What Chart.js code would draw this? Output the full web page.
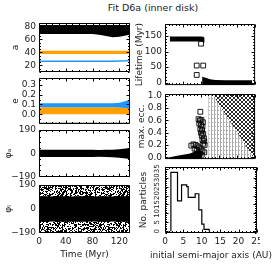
<!DOCTYPE html>
<html>
<head>
<meta charset="utf-8">
<script src="https://cdn.jsdelivr.net/npm/chart.js@4/dist/chart.umd.min.js"></script>
<style>
  body { margin: 0; background: #fff; width: 279px; height: 267px; overflow: hidden; position: relative; }
  canvas { position: absolute; }
  .lbl { position: absolute; text-align: center; font: 9px/11px "DejaVu Sans"; color: #222; white-space: nowrap; }
  #title { left: 90px; top: 2px; width: 126px; font-size: 9.5px; line-height: 12px; }
  #auTitle { left: 146px; top: 250px; width: 130px; }
</style>
</head>
<body>
<div id="title" class="lbl">Fit D6a (inner disk)</div>
<canvas id="pA"></canvas>
<canvas id="pE"></canvas>
<canvas id="pPhiA"></canvas>
<canvas id="pPhiL"></canvas>
<canvas id="pLife"></canvas>
<canvas id="pEcc"></canvas>
<canvas id="pHist"></canvas>
<div id="auTitle" class="lbl">initial semi-major axis (AU)</div>
<script>
// left column: time series, sampled every 10 Myr
const timeMyr = [0, 10, 20, 30, 40, 50, 60, 70, 80, 90, 100, 110, 120, 130, 135];
const aOuterTop    = [82, 82, 82, 82, 82, 82, 82, 82, 82, 82, 82, 82, 82, 82, 82];
const aOuterBottom = [68, 68, 68, 68, 68, 68, 68, 68, 68, 67, 65, 63, 64, 66, 67];
const aMiddleTop    = [42.5, 42.5, 42.5, 42.5, 42.5, 42.5, 42.5, 42.5, 42.5, 42.5, 42.5, 42.5, 42.5, 42.5, 42.5];
const aMiddleBottom = [37.5, 37.5, 37.5, 37.5, 37.5, 37.5, 37.5, 37.5, 37.5, 37.5, 37.5, 37.5, 37.5, 37.5, 37.5];
const aInner = [26.5, 26.5, 26.5, 26.5, 26.5, 26.5, 26.5, 26.5, 26.5, 26.5, 26.5, 26.5, 26.8, 27.2, 27.6];

const eMiddleTop    = [0.112, 0.112, 0.112, 0.112, 0.112, 0.112, 0.112, 0.112, 0.112, 0.112, 0.112, 0.113, 0.118, 0.135, 0.15];
const eMiddleBottom = [0.072, 0.072, 0.072, 0.072, 0.072, 0.072, 0.072, 0.072, 0.072, 0.072, 0.072, 0.071, 0.068, 0.064, 0.06];
const eInnerTop    = [0.072, 0.072, 0.072, 0.072, 0.072, 0.072, 0.072, 0.072, 0.072, 0.072, 0.072, 0.072, 0.072, 0.072, 0.072];
const eInnerBottom = [0.0, 0.0, 0.0, 0.0, 0.0, 0.0, 0.0, 0.0, 0.0, 0.0, 0.0, 0.0, 0.0, 0.0, 0.0];
const eFar = [-0.085, -0.085, -0.085, -0.085, -0.085, -0.085, -0.085, -0.085, -0.085, -0.085, -0.085, -0.085, -0.085, -0.085, -0.085];

const phiATop    = [30, 31, 30, 31, 30, 30, 31, 30, 30, 29, 30, 31, 34, 40, 44];
const phiABottom = [-28, -29, -28, -29, -28, -28, -29, -28, -28, -27, -28, -30, -34, -40, -44];
const phiLTop    = [100, 100, 98, 100, 100, 98, 100, 100, 98, 100, 100, 98, 100, 100, 100];
const phiLBottom = [-100, -100, -98, -100, -100, -98, -100, -100, -98, -100, -100, -98, -100, -100, -100];
const phiLSpread = [190, 190, 190, 190, 190, 190, 190, 190, 190, 190, 190, 190, 190, 190, 190];

// right column: against initial semi-major axis (AU)
const lifeBandA      = [1.3, 10.0, 10.6, 11.0];
const lifeBandTop    = [148, 148, 147, 144];
const lifeBandBottom = [132, 132, 130, 128];
const lifeLowA   = [10.3, 10.8, 11.5, 12.5, 14, 17, 20, 24.2];
const lifeLowTop = [19, 18, 15, 11, 9, 8, 8, 8];
const lifeSquareA = [10.0, 8.8, 10.6, 8.8];
const lifeSquareT = [125, 55, 55, 25];

const eccBlobA = [1.4, 3, 5, 7, 8.5, 9.5, 10.3];
const eccBlobE = [0.0, 0.02, 0.04, 0.06, 0.10, 0.14, 0.08];
const eccSquareA = [9.8, 9.3, 9.7, 10.1, 10.5, 9.5, 10.0, 10.4, 9.8, 10.3, 10.0, 10.6, 10.2, 10.8, 10.4,
                    10.9, 10.6, 11.0, 7.3, 7.9, 8.5, 9.0, 8.2, 8.8, 9.4, 9.9, 10.4, 10.9, 9.6, 10.2];
const eccSquareE = [0.74, 0.62, 0.60, 0.61, 0.57, 0.55, 0.52, 0.50, 0.46, 0.44, 0.40, 0.38, 0.35, 0.31, 0.28,
                    0.26, 0.22, 0.20, 0.19, 0.21, 0.20, 0.18, 0.14, 0.12, 0.16, 0.13, 0.10, 0.08, 0.06, 0.04];
const unstableEdgeA = [13.1, 24.8, 25];
const unstableEdgeE = [1.03, -0.03, -0.03];
const gridEdgeA = [12.0, 13.1, 24.8];
const gridEdgeE = [1.03, 1.03, -0.03];

const histEdges  = [1.6, 3.4, 4.5, 5.9, 6.3, 8.2, 9.2, 10.0, 10.6, 12.0];
const histCounts = [33, 17, 26, 25, 19, 21, 12, 4, 1];

const FONT = { family: 'DejaVu Sans', size: 9 };
const INK = '#222';
const ORANGE = '#ffa000';
const BLUE = '#1e96ff';

const pts = (xs, ys) => xs.map((x, i) => ({ x, y: ys[i] }));

function makePattern(w, h, color, on) {
  const c = document.createElement('canvas');
  c.width = w; c.height = h;
  const g = c.getContext('2d');
  g.fillStyle = color;
  for (let j = 0; j < h; j++)
    for (let i = 0; i < w; i++)
      if (on(i, j)) g.fillRect(i, j, 1, 1);
  return g.createPattern(c, 'repeat');
}
// fixed pixel hash, used only as a texture for the dense point cloud
const hashBit = (i, j) => {
  let h = Math.imul(i, 374761393) + Math.imul(j, 668265263);
  h = Math.imul(h ^ (h >>> 13), 1274126177);
  return ((h ^ (h >>> 16)) >>> 0) % 100;
};
const crossHatch = makePattern(4, 4, '#2a2a2a', (i, j) => i === j || i === 3 - j);
const dottedGrid = makePattern(3, 4, '#aaaaaa', (i, j) => i === 1 || (j === 2 && i === 2));
const speckle = makePattern(61, 53, '#000', (i, j) => hashBit(i, j) < 46);

function marks(scale, minor) {
  const major = scale.ticks.map(t => t.value);
  const out = [];
  for (let v = Math.ceil(scale.min / minor - 1e-9) * minor; v <= scale.max + 1e-9; v += minor) {
    out.push([v, major.some(m => Math.abs(m - v) < minor / 10)]);
  }
  return out;
}

// IDL style frame: box on all four sides with inward ticks
const boxTicks = {
  id: 'boxTicks',
  afterDatasetsDraw(chart, args, opts) {
    const { ctx, chartArea: a, scales: { x, y } } = chart;
    const L = a.left + 0.5, R = a.right - 0.5, T = a.top + 0.5, B = a.bottom - 0.5;
    ctx.save();
    ctx.strokeStyle = '#000';
    ctx.lineWidth = 1;
    ctx.beginPath();
    ctx.rect(L, T, R - L, B - T);
    marks(x, opts.xMinor).forEach(([v, major]) => {
      const p = Math.round(x.getPixelForValue(v)) + 0.5, n = major ? 3 : 1.5;
      ctx.moveTo(p, B); ctx.lineTo(p, B - n);
      ctx.moveTo(p, T); ctx.lineTo(p, T + n);
    });
    marks(y, opts.yMinor).forEach(([v, major]) => {
      const p = Math.round(y.getPixelForValue(v)) + 0.5, n = major ? 3 : 1.5;
      ctx.moveTo(L, p); ctx.lineTo(L + n, p);
      ctx.moveTo(R, p); ctx.lineTo(R - n, p);
    });
    ctx.stroke();
    ctx.restore();
  }
};

const signed = v => (v < 0 ? '\u2212' + Math.abs(v) : String(v));
const oneDec = v => v.toFixed(1);

function axis(a, dir, size) {
  return {
    type: 'linear', min: a.min, max: a.max,
    grid: { display: false, drawTicks: false },
    border: { display: false },
    ticks: {
      display: !!a.labels, stepSize: a.step, includeBounds: false, autoSkip: false,
      font: { ...FONT, size: a.fontSize || FONT.size }, color: INK, padding: 3,
      minRotation: a.rot || 0, maxRotation: a.rot || 0,
      crossAlign: a.rot ? 'center' : 'near',
      callback: a.fmt || signed
    },
    title: a.title
      ? { display: true, text: a.title, font: FONT, color: INK, padding: a.titlePad }
      : { display: false },
    afterFit(s) {
      if (dir === 'x') s.height = size; else s.width = size;
      s.paddingLeft = s.paddingRight = s.paddingTop = s.paddingBottom = 0;
    }
  };
}

function panel(id, box, pad, o) {
  const cv = document.getElementById(id);
  cv.width = box.w + pad.l + pad.r;
  cv.height = box.h + pad.t + pad.b;
  cv.style.left = (box.x - pad.l) + 'px';
  cv.style.top = (box.y - pad.t) + 'px';
  return new Chart(cv, {
    type: 'line',
    data: { datasets: o.datasets },
    options: {
      responsive: false, animation: false, devicePixelRatio: 1,
      layout: { padding: { left: 0, right: pad.r, top: pad.t, bottom: 0 } },
      elements: { point: { radius: 0 }, line: { borderWidth: 0, tension: 0 } },
      plugins: {
        legend: { display: false }, tooltip: { enabled: false },
        boxTicks: { xMinor: o.xMinor, yMinor: o.yMinor }
      },
      scales: { x: axis(o.x, 'x', pad.b), y: axis(o.y, 'y', pad.l) }
    },
    plugins: [boxTicks]
  });
}

const band = (xs, lo, hi, color, order) => [
  { data: pts(xs, lo), borderWidth: 0, order },
  { data: pts(xs, hi), borderWidth: 0, fill: '-1', backgroundColor: color, order }
];

const LEFT = { l: 39, r: 2 };
const timeAxis = { min: 0, max: 136, step: 40 };

panel('pA', { x: 39, y: 23, w: 91, h: 49 }, { ...LEFT, t: 6, b: 2 }, {
  xMinor: 10, yMinor: 5,
  x: timeAxis,
  y: { min: 10, max: 85, step: 20, labels: true, title: 'a', titlePad: { top: 10 } },
  datasets: [
    { data: pts(timeMyr, aInner), borderColor: BLUE, borderWidth: 1.5, order: 0 },
    ...band(timeMyr, aMiddleBottom, aMiddleTop, ORANGE, 1),
    ...band(timeMyr, aOuterBottom, aOuterTop, '#000', 2)
  ]
});

panel('pE', { x: 39, y: 78, w: 91, h: 46 }, { ...LEFT, t: 6, b: 2 }, {
  xMinor: 10, yMinor: 0.05,
  x: timeAxis,
  y: { min: -0.099, max: 0.37, step: 0.1, labels: true, fmt: oneDec, title: 'e', titlePad: { top: 10 } },
  datasets: [
    ...band(timeMyr, eMiddleBottom, eMiddleTop, BLUE, 0),
    ...band(timeMyr, eInnerBottom, eInnerTop, ORANGE, 1),
    { data: pts(timeMyr, eFar), borderColor: '#c4c4c4', borderWidth: 1.5, order: 2 }
  ]
});

panel('pPhiA', { x: 39, y: 130, w: 91, h: 47 }, { ...LEFT, t: 6, b: 3 }, {
  xMinor: 10, yMinor: 45,
  x: timeAxis,
  y: { min: -190, max: 190, step: 180, labels: true, title: '\u03c6\u2090', titlePad: { top: 3 } },
  datasets: band(timeMyr, phiABottom, phiATop, '#000', 0)
});

panel('pPhiL', { x: 39, y: 185, w: 91, h: 48 }, { ...LEFT, t: 6, b: 34 }, {
  xMinor: 10, yMinor: 45,
  x: { ...timeAxis, labels: true, title: 'Time (Myr)', titlePad: { bottom: 7 } },
  y: { min: -190, max: 190, step: 180, labels: true, title: '\u03c6\u2097', titlePad: { top: 3 } },
  datasets: [
    ...band(timeMyr, phiLBottom, phiLTop, '#000', 0),
    { data: pts(timeMyr, phiLSpread), borderWidth: 0, fill: 'start', backgroundColor: speckle, order: 1 }
  ]
});

const RIGHT = { l: 33, r: 3 };
const auAxis = { min: 0, max: 25, step: 5 };
const squares = (xs, ys, order) => ({
  data: pts(xs, ys), showLine: false, pointStyle: 'rect', pointRadius: 3.4,
  pointBorderColor: '#000', pointBackgroundColor: 'rgba(0,0,0,0)', pointBorderWidth: 0.9, order
});

panel('pLife', { x: 165, y: 24, w: 92, h: 64 }, { ...RIGHT, t: 6, b: 2 }, {
  xMinor: 1, yMinor: 10,
  x: auAxis,
  y: { min: -7.5, max: 188, step: 50, labels: true, title: 'Lifetime (Myr)', titlePad: { top: 2 } },
  datasets: [
    squares(lifeSquareA, lifeSquareT, 0),
    ...band(lifeBandA, lifeBandBottom, lifeBandTop, '#000', 1),
    { data: pts(lifeLowA, lifeLowTop), borderWidth: 0, fill: 'start', backgroundColor: '#000', order: 1 }
  ]
});

panel('pEcc', { x: 165, y: 94, w: 92, h: 68 }, { ...RIGHT, t: 6, b: 2 }, {
  xMinor: 1, yMinor: 0.05,
  x: auAxis,
  y: { min: -0.03, max: 1.03, step: 0.2, labels: true, fmt: oneDec, title: 'max. ecc.', titlePad: { top: 4 } },
  datasets: [
    squares(eccSquareA, eccSquareE, 0),
    { data: pts(eccBlobA, eccBlobE), borderWidth: 0, fill: 'start', backgroundColor: '#000', order: 1 },
    { data: pts(unstableEdgeA, unstableEdgeE), borderWidth: 0, fill: 'end', backgroundColor: crossHatch, order: 2 },
    { data: pts(gridEdgeA, gridEdgeE), borderWidth: 0, fill: 'start', backgroundColor: dottedGrid, order: 3 }
  ]
});

panel('pHist', { x: 165, y: 167, w: 92, h: 66 }, { ...RIGHT, t: 6, b: 34 }, {
  xMinor: 1, yMinor: 1,
  x: { ...auAxis, labels: true },
  y: { min: -1, max: 36, step: 5, labels: true, rot: 90, fontSize: 7, title: 'No. particles', titlePad: { top: 6 } },
  datasets: [{
    data: [{ x: histEdges[0], y: 0 }, ...pts(histEdges.slice(0, -1), histCounts),
           { x: histEdges[histEdges.length - 1], y: 0 }],
    stepped: 'before', borderColor: '#000', borderWidth: 1.2
  }]
});
</script>
</body>
</html>
